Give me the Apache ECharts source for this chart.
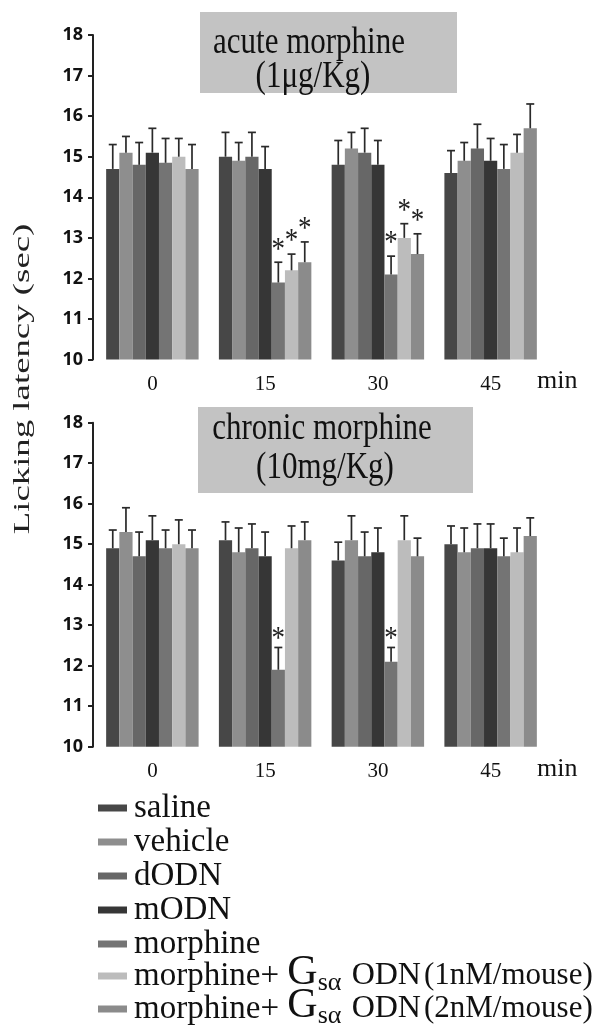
<!DOCTYPE html>
<html>
<head>
<meta charset="utf-8">
<script src="https://cdn.jsdelivr.net/npm/echarts@6/dist/echarts.min.js"></script>
<style>
html,body{margin:0;padding:0;background:#fff;}
#chart{width:600px;height:1026px;}
</style>
</head>
<body>
<div id="chart"></div>
<script>
// ---------- DATA ----------
const categories = ['0', '15', '30', '45'];
const groupNames = ['saline', 'vehicle', 'dODN', 'mODN', 'morphine',
  'morphine+Gsα ODN(1nM/mouse)', 'morphine+Gsα ODN(2nM/mouse)'];
const yTicks = [10, 11, 12, 13, 14, 15, 16, 17, 18];

// acute morphine (1 µg/Kg) — means
const acuteSaline   = [14.7, 15.0, 14.8, 14.6];
const acuteVehicle  = [15.1, 14.9, 15.2, 14.9];
const acuteDODN     = [14.8, 15.0, 15.1, 15.2];
const acuteMODN     = [15.1, 14.7, 14.8, 14.9];
const acuteMorphine = [14.85, 11.9, 12.1, 14.7];
const acuteGsa1     = [15.0, 12.2, 13.0, 15.1];
const acuteGsa2     = [14.7, 12.4, 12.6, 15.7];
// acute — error (SEM)
const acuteSalineErr   = [0.6, 0.6, 0.6, 0.55];
const acuteVehicleErr  = [0.4, 0.45, 0.4, 0.45];
const acuteDODNErr     = [0.55, 0.6, 0.6, 0.6];
const acuteMODNErr     = [0.6, 0.55, 0.6, 0.55];
const acuteMorphineErr = [0.6, 0.5, 0.45, 0.6];
const acuteGsa1Err     = [0.45, 0.4, 0.35, 0.45];
const acuteGsa2Err     = [0.6, 0.5, 0.5, 0.6];
// acute — significant [categoryIndex, groupIndex]
const acuteSig = [[1, 4], [1, 5], [1, 6], [2, 4], [2, 5], [2, 6]];

// chronic morphine (10 mg/Kg) — means
const chronicSaline   = [14.9, 15.1, 14.6, 15.0];
const chronicVehicle  = [15.3, 14.8, 15.1, 14.8];
const chronicDODN     = [14.7, 14.9, 14.7, 14.9];
const chronicMODN     = [15.1, 14.7, 14.8, 14.9];
const chronicMorphine = [14.9, 11.9, 12.1, 14.7];
const chronicGsa1     = [15.0, 14.9, 15.1, 14.8];
const chronicGsa2     = [14.9, 15.1, 14.7, 15.2];
// chronic — error (SEM)
const chronicSalineErr   = [0.45, 0.45, 0.45, 0.45];
const chronicVehicleErr  = [0.6, 0.6, 0.6, 0.6];
const chronicDODNErr     = [0.6, 0.6, 0.6, 0.6];
const chronicMODNErr     = [0.6, 0.6, 0.6, 0.6];
const chronicMorphineErr = [0.45, 0.55, 0.35, 0.45];
const chronicGsa1Err     = [0.6, 0.55, 0.6, 0.6];
const chronicGsa2Err     = [0.45, 0.45, 0.45, 0.45];
const chronicSig = [[1, 4], [2, 4]];

// ---------- STYLE ----------
const colors = ['#474747', '#8e8e8e', '#676767', '#363636', '#747474', '#bcbcbc', '#8b8b8b'];
const SERIF = '"Liberation Serif","Times New Roman",serif';
const CAT_GAP = 0.18;

const acuteMeans = [acuteSaline, acuteVehicle, acuteDODN, acuteMODN, acuteMorphine, acuteGsa1, acuteGsa2];
const acuteErrs = [acuteSalineErr, acuteVehicleErr, acuteDODNErr, acuteMODNErr, acuteMorphineErr, acuteGsa1Err, acuteGsa2Err];
const chronicMeans = [chronicSaline, chronicVehicle, chronicDODN, chronicMODN, chronicMorphine, chronicGsa1, chronicGsa2];
const chronicErrs = [chronicSalineErr, chronicVehicleErr, chronicDODNErr, chronicMODNErr, chronicMorphineErr, chronicGsa1Err, chronicGsa2Err];

function errData(means, errs, sig) {
  const out = [];
  for (let s = 0; s < means.length; s++) {
    for (let c = 0; c < categories.length; c++) {
      const isSig = sig.some(p => p[0] === c && p[1] === s) ? 1 : 0;
      out.push([c, s, means[s][c], errs[s][c], isSig]);
    }
  }
  return out;
}

function makeRender(starOffset) {
  return function (params, api) {
    const c = api.value(0), s = api.value(1), v = api.value(2), e = api.value(3), sig = api.value(4);
    const band = api.size([1, 0])[0];
    const bw = band * (1 - CAT_GAP) / groupNames.length;
    const p0 = api.coord([c, v]);
    const p1 = api.coord([c, v + e]);
    const x = p0[0] + (s - (groupNames.length - 1) / 2) * bw;
    const ls = { stroke: '#2a2a2a', lineWidth: 1.7 };
    const children = [
      { type: 'line', shape: { x1: x, y1: p0[1], x2: x, y2: p1[1] }, style: ls },
      { type: 'line', shape: { x1: x - 4, y1: p1[1], x2: x + 4, y2: p1[1] }, style: ls }
    ];
    if (sig) {
      children.push({ type: 'text', scaleY: 1.2, x: x, y: p1[1] + starOffset, style: { text: '*', x: 0, y: 0,
        align: 'center', verticalAlign: 'bottom', font: '27px ' + SERIF, fill: '#222' } });
    }
    return { type: 'group', children };
  };
}

const series = [];
[[acuteMeans, 0], [chronicMeans, 1]].forEach(([means, k]) => {
  means.forEach((d, i) => {
    series.push({
      name: groupNames[i], type: 'bar', xAxisIndex: k, yAxisIndex: k, data: d,
      barGap: '0%', barCategoryGap: (CAT_GAP * 100) + '%',
      itemStyle: { color: colors[i] }, silent: true
    });
  });
});
series.push({ type: 'custom', xAxisIndex: 0, yAxisIndex: 0, renderItem: makeRender(4),
  data: errData(acuteMeans, acuteErrs, acuteSig), encode: { x: 0, y: 2 }, z: 5, silent: true });
series.push({ type: 'custom', xAxisIndex: 1, yAxisIndex: 1, renderItem: makeRender(8),
  data: errData(chronicMeans, chronicErrs, chronicSig), encode: { x: 0, y: 2 }, z: 5, silent: true });

function xAxisCfg(k) {
  return {
    type: 'category', gridIndex: k, data: categories,
    axisLine: { show: false }, axisTick: { show: false },
    axisLabel: { fontFamily: SERIF, fontSize: 21, color: '#111', margin: 14 },
    name: 'min', nameLocation: 'end', nameGap: -10,
    nameTextStyle: { fontFamily: SERIF, fontSize: 26, color: '#111', verticalAlign: 'top', align: 'left', padding: [9, 0, 0, 0] }
  };
}
function yAxisCfg(k) {
  return {
    type: 'value', gridIndex: k, min: yTicks[0], max: yTicks[yTicks.length - 1], interval: 1, offset: 3,
    axisLine: { show: true, lineStyle: { color: '#222', width: 2 } },
    axisTick: { show: true, length: 5, lineStyle: { color: '#222', width: 2 } },
    splitLine: { show: false },
    axisLabel: { fontFamily: '"Open Sans",sans-serif', fontWeight: 'bold', fontSize: 18, color: '#111', margin: 10 }
  };
}

function legendLabel(name) {
  const m = name.match(/^morphine\+Gsα ODN(\(.*\))$/);
  if (m) return 'morphine+ {g|G}{sub|sα} {odn|ODN}{par|' + m[1] + '}';
  return name;
}

const legendText = {
  fontFamily: SERIF, fontSize: 33, color: '#111', lineHeight: 34, padding: [0, 0, 0, 2],
  rich: {
    g: { fontFamily: SERIF, fontSize: 42, color: '#111', lineHeight: 34, height: 28, verticalAlign: 'top' },
    sub: { fontFamily: SERIF, fontSize: 26, color: '#111', lineHeight: 34, height: 20, verticalAlign: 'bottom' },
    odn: { fontFamily: SERIF, fontSize: 32, color: '#111', lineHeight: 34, height: 34, padding: [0, 0, 0, 2] },
    par: { fontFamily: SERIF, fontSize: 31, color: '#111', lineHeight: 34, height: 34, padding: [0, 0, 0, 3] }
  }
};
const legendBase = {
  orient: 'vertical', left: 93, height: 270,
  itemWidth: 29, itemHeight: 7, icon: 'rect', selectedMode: false,
  formatter: legendLabel, textStyle: legendText
};

const option = {
  animation: false,
  backgroundColor: '#fff',
  grid: [
    { left: 96, top: 35, width: 451, height: 324.6 },
    { left: 96, top: 422.7, width: 451, height: 324 }
  ],
  xAxis: [xAxisCfg(0), xAxisCfg(1)],
  yAxis: [yAxisCfg(0), yAxisCfg(1)],
  legend: [
    Object.assign({}, legendBase, { top: 786, itemGap: 0, data: groupNames.slice(0, 5) }),
    Object.assign({}, legendBase, { top: 947, itemGap: -11, data: groupNames.slice(5) })
  ],
  graphic: [
    { type: 'rect', left: 200, top: 12, shape: { width: 257, height: 81 }, style: { fill: '#c3c3c3' }, z: 0 },
    { type: 'text', x: 309, y: 43, scaleY: 1.25, z: 1,
      style: { text: 'acute morphine', font: '31px ' + SERIF, fill: '#111', align: 'center', verticalAlign: 'middle' } },
    { type: 'text', x: 313, y: 77, scaleY: 1.25, z: 1,
      style: { text: '(1μg/Kg)', font: '31px ' + SERIF, fill: '#111', align: 'center', verticalAlign: 'middle' } },
    { type: 'rect', left: 198, top: 407, shape: { width: 275, height: 86 }, style: { fill: '#c3c3c3' }, z: 0 },
    { type: 'text', x: 322, y: 429, scaleY: 1.25, z: 1,
      style: { text: 'chronic morphine', font: '31px ' + SERIF, fill: '#111', align: 'center', verticalAlign: 'middle' } },
    { type: 'text', x: 325, y: 468, scaleY: 1.25, z: 1,
      style: { text: '(10mg/Kg)', font: '31px ' + SERIF, fill: '#111', align: 'center', verticalAlign: 'middle' } },
    { type: 'text', x: 23, y: 379, rotation: Math.PI / 2, scaleX: 1.6, z: 1,
      style: { text: 'Licking latency (sec)', font: '23px ' + SERIF, fill: '#222', align: 'center', verticalAlign: 'middle' } }
  ],
  series
};

const chart = echarts.init(document.getElementById('chart'), null, { renderer: 'canvas' });
chart.setOption(option);
</script>
</body>
</html>
